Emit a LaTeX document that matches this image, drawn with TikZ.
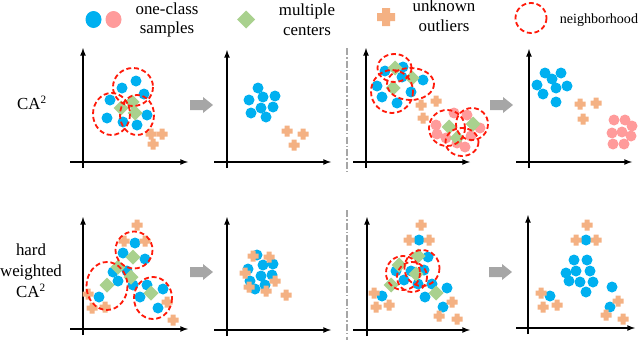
\documentclass[tikz,border=0pt]{standalone}
\usepackage{fontspec}
\setmainfont{Liberation Serif}
\usepackage{xcolor}
\usepackage{tikz}
\usetikzlibrary{arrows, positioning}

\definecolor{ptblue}{HTML}{00B0F0}
\definecolor{ptpink}{HTML}{FF9B9B}
\definecolor{ctgreen}{HTML}{A9D18E}
\definecolor{olorange}{HTML}{F4B183}
\definecolor{nbred}{HTML}{FF1A0A}
\definecolor{arrgrey}{HTML}{A6A6A6}

\begin{document}
\begin{tikzpicture}[x=0.025cm, y=-0.025cm,
  ax/.style={line width=0.9pt, -latex},
  nb/.style={draw=nbred, line width=1.3pt, dash pattern=on 3.5pt off 2pt},
  lbl/.style={font=\fontsize{12}{14}\selectfont, align=center}]
  \useasboundingbox (0,0) rectangle (640,342);

  % legend
  \fill[ptblue] (93.5,19.5) ellipse [x radius=8, y radius=8.5];
  \fill[ptpink] (113.5,19.5) ellipse [x radius=8, y radius=8.5];
  \node[lbl] (lsamp) at (167,20) {one-class\\samples};
  \fill[ctgreen] (246,10.5) -- (255,19.5) -- (246,28.5) -- (237,19.5) -- cycle;
  \node[lbl] (lcent) at (307,20) {multiple\\centers};
  \fill[olorange] (377,13) rectangle (395,21) (382,8) rectangle (390,26);
  \node[lbl] (loutl) at (444,16) {unknown\\outliers};
  \draw[nb] (531,18) ellipse [x radius=15.5, y radius=15];
  \node[font=\fontsize{10}{12}\selectfont] (lnb) at (599,20) {neighborhood};

  % row labels
  \node[lbl] (ca) at (32,103) {CA\textsuperscript{2}};
  \node[lbl, font=\fontsize{12}{15}\selectfont] (hwca) at (31,271)
    {hard\\weighted\\CA\textsuperscript{2}};

  % axes
  \foreach \ox/\oy/\xl/\xr/\yt/\yb in {83/162/70/188/48/168, 227/162/214/331/50/168,
      366/162/353/470/48/168, 529/162/516/632/49/168,
      83/329/70/188/217/335, 227/330/214/331/217/336,
      367/330/353/470/217/336, 528/328/516/635/215/334} {
    \draw[ax] (\xl,\oy) -- (\xr,\oy);
    \draw[ax] (\ox,\yb) -- (\ox,\yt);
  }

  % grey arrows and dividers
  \foreach \ax/\ay in {190/105, 490/105, 190/272, 489/272} {
    \fill[arrgrey] (\ax,\ay-5) -- (\ax+13,\ay-5) -- (\ax+13,\ay-8) -- (\ax+23,\ay)
      -- (\ax+13,\ay+8) -- (\ax+13,\ay+5) -- (\ax,\ay+5) -- cycle;
  }
  \draw[arrgrey, line width=1.2pt, dash pattern=on 5pt off 1.5pt on 1pt off 1.5pt]
    (347,48) -- (347,172) (347,210) -- (347,340);

  % one-class samples
  \foreach \x/\y in {136/81, 122/88, 144/94, 110/100, 107/118, 123/122, 137/125, 147/115,
      258/88, 249/100, 263/97, 275/96, 261/108, 273/107, 251/113, 266/117,
      385/71, 403/67, 402/77, 423/80, 377/86, 411/92, 382/97, 397/103,
      545/73, 561/73, 552/79, 537/85, 567/86, 556/88, 543/94, 556/102,
      135/243, 123/253, 145/259, 113/272, 127/271, 118/281, 133/285, 147/285,
      99/297, 163/289, 140/297, 158/308,
      257/255, 273/264, 263/265, 248/269, 261/276, 272/275, 250/281, 265/285, 255/289,
      419/240, 428/257, 396/271, 411/271, 424/270, 404/280, 418/284, 432/284,
      425/297, 447/288, 443/307, 382/296,
      586/240, 574/260, 587/260, 566/273, 576/271, 590/271, 569/281, 580/282,
      593/282, 586/292, 612/287, 550/296, 610/307}
    \fill[ptblue] (\x,\y) circle [radius=5.5];
  \foreach \x/\y in {436/125, 454/113, 467/115, 480/128, 437/134, 457/143, 465/147,
      471/136, 446/138,
      614/120, 625/120, 632/126, 612/133, 622/132, 631/136, 613/144, 624/144}
    \fill[ptpink] (\x,\y) circle [radius=5.5];

  % unknown outliers
  \foreach \x/\y in {151/134, 162/134, 153/144, 287/131, 303/134, 294/145,
      421/105, 436/101, 423/118, 580/104, 596/103, 583/119,
      137/225, 124/241, 145/241, 88/294, 92/308, 105/307, 167/302, 173/320,
      253/256, 269/257, 245/273, 275/281, 249/287, 266/291, 286/295,
      421/225, 409/240, 429/240, 374/293, 376/307, 389/305, 452/302, 439/316, 457/319,
      587/225, 576/240, 596/240, 541/293, 543/307, 557/305, 618/301, 606/315, 623/319}
    \fill[olorange] (\x-5.5,\y-2.5) rectangle (\x+5.5,\y+2.5)
      (\x-2.5,\y-5.5) rectangle (\x+2.5,\y+5.5);

  % multiple centers
  \foreach \x/\y in {132/102, 121/108, 135/113, 395/68, 412/78, 393/88,
      449/127, 473/124, 457/138,
      133/257, 118/267, 131/277, 107/285, 151/293,
      418/256, 399/265, 416/274, 391/285, 436/293}
    \fill[ctgreen] (\x,\y-7.5) -- (\x+7.5,\y) -- (\x,\y+7.5) -- (\x-7.5,\y) -- cycle;

  % neighborhoods
  \foreach \x/\y/\rx/\ry in {133/87/20/19, 111.5/114/18.5/21, 137/115/17/20,
      394.5/68/17/14, 392/91.5/21/21.5, 410.5/84/23.5/16,
      447/128/18/18, 472/124/16/16, 462/142/16.5/14,
      134/250/18.5/18.5, 107/286/20.5/24, 153/298/19/21,
      403/273/17/17, 422/268/17.5/18, 412/277/15/15}
    \draw[nb] (\x,\y) ellipse [x radius=\rx, y radius=\ry];
\end{tikzpicture}
\end{document}
